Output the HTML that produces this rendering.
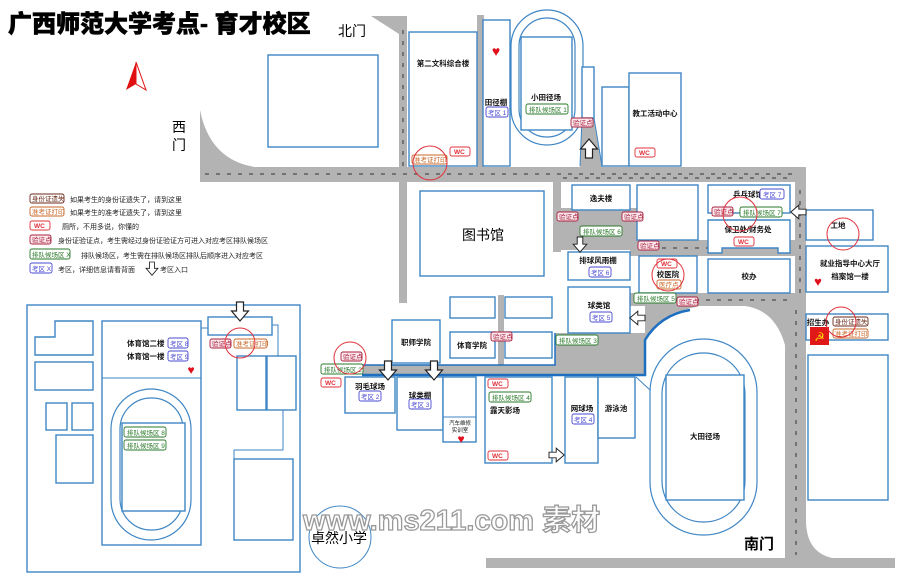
<!DOCTYPE html>
<html><head><meta charset="utf-8"><style>
html,body{margin:0;padding:0;background:#fff;}
svg{display:block;}
text{font-family:"Liberation Sans","Noto Sans CJK SC",sans-serif;}
.b{fill:#fff;stroke:#3f86c4;stroke-width:1.4;}
.r{fill:#b3b3b3;stroke:none;}
.lb{font-size:7.5px;font-weight:bold;fill:#111;}
.dash{stroke:#333;stroke-width:1;stroke-dasharray:4 7;fill:none;}
.c{fill:none;stroke:#e0303a;stroke-width:1;}
.ar{fill:#fff;stroke:#222;stroke-width:1.2;}
.bd text{font-size:6.5px;}
</style></head><body>
<svg width="900" height="575" viewBox="0 0 900 575" xmlns="http://www.w3.org/2000/svg">
<!-- roads -->
<path class="r" d="M200,110 Q210,160 255,167 L805,167 L805,182 L200,182 Z"/>
<path class="r" d="M371,16 L407,16 L407,303 L399,303 L399,34 Z"/>
<rect class="r" x="477" y="15" width="7" height="152"/>
<path class="r" d="M582,118 L594,118 L602,167 L580,167 Z"/>
<rect class="r" x="553" y="180" width="8" height="72"/>
<rect class="r" x="553" y="208" width="90" height="42"/>
<rect class="r" x="630" y="240" width="170" height="16"/>
<rect class="r" x="630" y="293" width="170" height="13"/>
<rect class="r" x="795" y="167" width="11" height="150"/>
<path class="r" d="M795,300 L806,300 L806,520 Q806,552 832,558 L895,558 L895,568 L486,568 L486,558 L785,558 L785,345 Q775,310 745,306 L700,306 L700,300 Z"/>
<rect class="r" x="498" y="295" width="6" height="70"/>
<path class="r" d="M362,365 L555,365 L555,333 L645,333 L645,306 L700,306 Q665,312 645,340 L645,375 L362,375 Z"/>
<path d="M362,375 L645,375 L645,340 Q660,315 690,310" fill="none" stroke="#1f6fc0" stroke-width="2.5"/>
<path d="M362,365 L555,365 L555,333" fill="none" stroke="#1f6fc0" stroke-width="1.5"/>
<!-- dashed arrows -->
<line class="dash" x1="205" y1="174" x2="795" y2="174"/>
<line class="dash" x1="403" y1="30" x2="403" y2="170"/>
<line class="dash" x1="563" y1="178" x2="790" y2="178"/>
<line class="dash" x1="800" y1="190" x2="800" y2="300"/>
<line class="dash" x1="640" y1="248" x2="790" y2="248"/>
<line class="dash" x1="640" y1="300" x2="790" y2="300"/>
<line class="dash" x1="796" y1="310" x2="796" y2="555"/>
<!-- title -->
<text x="8" y="32" font-size="24" font-weight="900" fill="#000" stroke="#000" stroke-width="0.6">广西师范大学考点- 育才校区</text>
<text x="338" y="36" font-size="14" fill="#000">北门</text>
<text x="172" y="132" font-size="14" fill="#000">西</text>
<text x="172" y="150" font-size="14" fill="#000">门</text>
<text x="744" y="549" font-size="15" font-weight="bold" fill="#000">南门</text>
<!-- north arrow -->
<path d="M136,62 L126,90 L136,84 Z" fill="#e01010"/>
<path d="M136,62 L146,90 L136,84 Z" fill="#fff" stroke="#e01010" stroke-width="1"/>
<!-- top buildings -->
<rect class="b" x="268" y="55" width="110" height="92"/>
<rect class="b" x="409" y="32" width="68" height="134"/>
<text class="lb" x="443" y="66" text-anchor="middle">第二文科综合楼</text>
<rect class="b" x="483" y="20" width="27" height="146"/>
<text x="496" y="56" font-size="14" fill="#e0101c" text-anchor="middle">♥</text>
<text class="lb" x="496" y="105" text-anchor="middle">田径棚</text>
<rect x="511" y="10" width="72" height="135" rx="36" fill="none" stroke="#3f86c4" stroke-width="1.2"/>
<rect x="519" y="18" width="56" height="119" rx="28" fill="none" stroke="#3f86c4" stroke-width="1.2"/>
<rect class="b" x="521" y="37" width="51" height="93"/>
<text class="lb" x="546" y="100" text-anchor="middle">小田径场</text>
<rect class="b" x="582" y="67" width="12" height="51"/>
<line x1="582" y1="118" x2="580" y2="166" stroke="#3f86c4"/>
<line x1="594" y1="118" x2="602" y2="166" stroke="#3f86c4"/>
<rect class="b" x="602" y="87" width="27" height="79"/>
<rect class="b" x="629" y="73" width="52" height="93"/>
<text class="lb" x="655" y="116" text-anchor="middle">教工活动中心</text>
<!-- middle -->
<rect class="b" x="420" y="191" width="124" height="85"/>
<text x="462" y="240" font-size="14" fill="#000">图书馆</text>
<rect class="b" x="572" y="185" width="58" height="25"/>
<text class="lb" x="601" y="201" text-anchor="middle">逸夫楼</text>
<rect class="b" x="637" y="185" width="61" height="55"/>
<rect class="b" x="708" y="185" width="82" height="28"/>
<text class="lb" x="748" y="197" text-anchor="middle">乒乓球馆</text>
<path class="b" d="M708,220 H790 V253 H778 V248 H722 V253 H708 Z"/>
<text class="lb" x="748" y="232" text-anchor="middle">保卫处/财务处</text>
<rect class="b" x="806" y="210" width="67" height="30"/>
<text class="lb" x="838" y="228" text-anchor="middle">工地</text>
<rect class="b" x="806" y="246" width="82" height="46"/>
<text class="lb" x="850" y="266" text-anchor="middle">就业指导中心大厅</text>
<text class="lb" x="850" y="279" text-anchor="middle">档案馆一楼</text>
<text x="818" y="286" font-size="13" fill="#e0101c" text-anchor="middle">♥</text>
<rect class="b" x="568" y="252" width="62" height="28"/>
<text class="lb" x="598" y="263" text-anchor="middle">排球风雨棚</text>
<rect class="b" x="639" y="256" width="58" height="37"/>
<text class="lb" x="668" y="277" text-anchor="middle">校医院</text>
<rect class="b" x="708" y="259" width="82" height="34"/>
<text class="lb" x="749" y="279" text-anchor="middle">校办</text>
<rect class="b" x="568" y="287" width="62" height="46"/>
<text class="lb" x="599" y="308" text-anchor="middle">球类馆</text>
<rect class="b" x="806" y="314" width="82" height="26"/>
<text class="lb" x="818" y="325" text-anchor="middle">招生办</text>
<rect x="810" y="327" width="19" height="18" fill="#e01818"/>
<text x="819.5" y="341" font-size="12" fill="#ffd800" text-anchor="middle">☭</text>
<rect class="b" x="808" y="355" width="80" height="145"/>
<rect class="b" x="392" y="320" width="48" height="43"/>
<text class="lb" x="416" y="345" text-anchor="middle">职师学院</text>
<rect class="b" x="450" y="297" width="45" height="21"/>
<rect class="b" x="505" y="297" width="47" height="21"/>
<rect class="b" x="450" y="332" width="45" height="26"/>
<text class="lb" x="472" y="348" text-anchor="middle">体育学院</text>
<rect class="b" x="505" y="332" width="47" height="26"/>
<rect class="b" x="345" y="377" width="50" height="36"/>
<text class="lb" x="370" y="389" text-anchor="middle">羽毛球场</text>
<rect class="b" x="397" y="377" width="46" height="53"/>
<text class="lb" x="420" y="398" text-anchor="middle">球类棚</text>
<rect class="b" x="443" y="377" width="33" height="65"/>
<line x1="443" y1="417" x2="476" y2="417" stroke="#3f86c4"/>
<text x="460" y="425" font-size="5.5" text-anchor="middle" fill="#111">汽车维修</text>
<text x="460" y="432" font-size="5.5" text-anchor="middle" fill="#111">实训室</text>
<text x="461" y="443" font-size="12" fill="#e0101c" text-anchor="middle">♥</text>
<rect class="b" x="485" y="377" width="67" height="86"/>
<text class="lb" x="490" y="413">露天影场</text>
<rect class="b" x="565" y="377" width="33" height="86"/>
<text class="lb" x="582" y="411" text-anchor="middle">网球场</text>
<rect class="b" x="598" y="377" width="37" height="61"/>
<text class="lb" x="616" y="411" text-anchor="middle">游泳池</text>
<line x1="636" y1="377" x2="650" y2="390" stroke="#3f86c4"/>
<rect x="650" y="339" width="107" height="196" rx="53" fill="#fff" stroke="#3f86c4" stroke-width="1.2"/>
<rect x="662" y="353" width="83" height="169" rx="41" fill="none" stroke="#3f86c4" stroke-width="1.2"/>
<rect class="b" x="666" y="375" width="78" height="125"/>
<text class="lb" x="705" y="439" text-anchor="middle">大田径场</text>
<!-- left campus -->
<rect class="b" x="27" y="305" width="273" height="267"/>
<path class="b" d="M55,321 H93 V355 H35 V337 H55 Z"/>
<rect class="b" x="35" y="362" width="58" height="28"/>
<rect class="b" x="46" y="403" width="21" height="27"/>
<rect class="b" x="72" y="403" width="21" height="27"/>
<rect class="b" x="56" y="435" width="37" height="48"/>
<rect class="b" x="102" y="321" width="99" height="224"/>
<line x1="102" y1="378" x2="201" y2="378" stroke="#3f86c4"/>
<text class="lb" x="127" y="346">体育馆二楼</text>
<text class="lb" x="127" y="359">体育馆一楼</text>
<text x="191" y="374" font-size="12" fill="#e0101c" text-anchor="middle">♥</text>
<rect x="111" y="389" width="80" height="151" rx="40" fill="none" stroke="#3f86c4" stroke-width="1.2"/>
<rect x="120" y="398" width="63" height="132" rx="31" fill="none" stroke="#3f86c4" stroke-width="1.2"/>
<rect class="b" x="122" y="423" width="63" height="88"/>
<polyline points="201,328 208,328" stroke="#3f86c4" fill="none"/>
<rect class="b" x="208" y="317" width="64" height="18"/>
<polyline points="272,325 278,325 278,356" stroke="#3f86c4" fill="none"/>
<rect class="b" x="237" y="356" width="29" height="54"/>
<rect class="b" x="267" y="356" width="29" height="54"/>
<polyline points="283,410 283,450 234,450 234,459" stroke="#3f86c4" fill="none"/>
<rect class="b" x="234" y="459" width="59" height="81"/>
<!-- badges -->
<g class="bd">
<g fill="#fbe9ee" stroke="#a8203c" stroke-width="0.9">
<rect x="210" y="339" width="21" height="9" rx="2"/><rect x="341" y="352" width="21" height="9" rx="2"/>
<rect x="571" y="118" width="22" height="9" rx="2"/><rect x="557" y="212" width="21" height="9" rx="2"/>
<rect x="622" y="212" width="21" height="9" rx="2"/><rect x="638" y="241" width="21" height="9" rx="2"/>
<rect x="677" y="297" width="21" height="9" rx="2"/><rect x="712" y="207" width="21" height="9" rx="2"/>
<rect x="491" y="332" width="21" height="9" rx="2"/><rect x="30" y="235" width="21" height="9" rx="2"/>
</g>
<g fill="#a8203c" font-size="6.5">
<text x="212" y="346">验证点</text><text x="343" y="359">验证点</text><text x="573" y="125">验证点</text>
<text x="559" y="219">验证点</text><text x="624" y="219">验证点</text><text x="640" y="248">验证点</text>
<text x="679" y="304">验证点</text><text x="714" y="214">验证点</text><text x="493" y="339">验证点</text>
<text x="32" y="242">验证点</text>
</g>
<g fill="#fff" stroke="#2a7a2a" stroke-width="0.9">
<rect x="526" y="104" width="42" height="10" rx="2"/><rect x="580" y="226" width="42" height="10" rx="2"/>
<rect x="740" y="207" width="42" height="10" rx="2"/><rect x="634" y="293" width="42" height="10" rx="2"/>
<rect x="556" y="335" width="42" height="10" rx="2"/><rect x="321" y="364" width="42" height="10" rx="2"/>
<rect x="489" y="392" width="42" height="10" rx="2"/><rect x="124" y="427" width="42" height="10" rx="2"/>
<rect x="124" y="440" width="42" height="10" rx="2"/><rect x="30" y="249" width="40" height="10" rx="2"/>
</g>
<g fill="#2a7a2a" font-size="6.5">
<text x="529" y="112">排队候场区 1</text><text x="583" y="234">排队候场区 6</text><text x="743" y="215">排队候场区 7</text>
<text x="637" y="301">排队候场区 5</text><text x="559" y="343">排队候场区 3</text><text x="324" y="372">排队候场区 2</text>
<text x="492" y="400">排队候场区 4</text><text x="127" y="435">排队候场区 8</text><text x="127" y="448">排队候场区 9</text>
<text x="32" y="257">排队候场区 X</text>
</g>
<g fill="#fff" stroke="#4a4ad0" stroke-width="0.9">
<rect x="486" y="107" width="22" height="10" rx="2"/><rect x="760" y="189" width="24" height="10" rx="2"/>
<rect x="589" y="267" width="22" height="10" rx="2"/><rect x="590" y="312" width="22" height="10" rx="2"/>
<rect x="359" y="391" width="22" height="10" rx="2"/><rect x="409" y="399" width="22" height="10" rx="2"/>
<rect x="572" y="414" width="22" height="10" rx="2"/><rect x="168" y="338" width="20" height="10" rx="2"/>
<rect x="168" y="351" width="20" height="10" rx="2"/><rect x="30" y="263" width="22" height="10" rx="2"/>
</g>
<g fill="#4a4ad0" font-size="6.5">
<text x="488" y="115">考区 1</text><text x="763" y="197">考区 7</text><text x="591" y="275">考区 6</text>
<text x="592" y="320">考区 5</text><text x="361" y="399">考区 2</text><text x="411" y="407">考区 3</text>
<text x="574" y="422">考区 4</text><text x="170" y="346">考区 8</text><text x="170" y="359">考区 9</text>
<text x="32" y="271">考区 X</text>
</g>
<g fill="#fff" stroke="#e0303a" stroke-width="0.9">
<rect x="450" y="147" width="20" height="9" rx="2"/><rect x="635" y="148" width="20" height="9" rx="2"/>
<rect x="734" y="237" width="20" height="9" rx="2"/><rect x="657" y="259" width="20" height="9" rx="2"/>
<rect x="321" y="378" width="20" height="9" rx="2"/><rect x="488" y="379" width="20" height="9" rx="2"/>
<rect x="488" y="451" width="20" height="9" rx="2"/><rect x="30" y="221" width="20" height="9" rx="2"/>
</g>
<g fill="#e0303a" font-size="6.5" font-weight="bold">
<text x="454" y="154">WC</text><text x="639" y="155">WC</text><text x="738" y="244">WC</text><text x="661" y="266">WC</text>
<text x="325" y="385">WC</text><text x="492" y="386">WC</text><text x="492" y="458">WC</text><text x="34" y="228">WC</text>
</g>
<g fill="#fff" stroke="#c8682a" stroke-width="0.9">
<rect x="412" y="155" width="35" height="9" rx="2"/><rect x="234" y="339" width="33" height="9" rx="2"/>
<rect x="833" y="329" width="35" height="9" rx="2"/><rect x="30" y="207" width="34" height="9" rx="2"/>
<rect x="657" y="280" width="24" height="9" rx="2"/>
</g>
<g fill="#c8682a" font-size="6.5">
<text x="414" y="162">准考证打印</text><text x="236" y="346">准考证打印</text><text x="835" y="336">准考证打印</text>
<text x="32" y="214">准考证打印</text><text x="659" y="287">医疗点</text>
</g>
<g fill="#fff" stroke="#6a2a1a" stroke-width="0.9">
<rect x="833" y="317" width="35" height="9" rx="2"/><rect x="30" y="194" width="34" height="9" rx="2"/>
</g>
<g fill="#6a2a1a" font-size="6.5">
<text x="835" y="324">身份证遗失</text><text x="32" y="201">身份证遗失</text>
</g>
</g>
<!-- circles -->
<circle class="c" cx="430" cy="163" r="17"/>
<circle class="c" cx="350" cy="358" r="16"/>
<circle class="c" cx="240" cy="343" r="15"/>
<circle class="c" cx="668" cy="275" r="16"/>
<circle class="c" cx="740" cy="214" r="17"/>
<circle class="c" cx="843" cy="234" r="16"/>
<circle class="c" cx="841" cy="322" r="15"/>
<circle cx="340" cy="537" r="31" fill="none" stroke="#3f86c4" stroke-width="1"/>
<text x="311" y="543" font-size="14" fill="#000">卓然小学</text>
<!-- legend text -->
<g font-size="7" fill="#222">
<text x="70" y="202">如果考生的身份证遗失了，请到这里</text>
<text x="70" y="215">如果考生的准考证遗失了，请到这里</text>
<text x="62" y="229">厕所，不用多说，你懂的</text>
<text x="58" y="243">身份证验证点，考生需经过身份证验证方可进入对应考区排队候场区</text>
<text x="81" y="258">排队候场区，考生需在排队候场区排队后顺序进入对应考区</text>
<text x="58" y="272">考区，详细信息请看背面</text>
<text x="160" y="272">考区入口</text>
</g>
<!-- white arrows -->
<g class="ar">
<path d="M-3.5,0 h7 v9 h5 l-8.5,10 l-8.5,-10 h5 z" transform="translate(152,262) scale(0.7)"/>
<path d="M-3.5,0 h7 v9 h5 l-8.5,10 l-8.5,-10 h5 z" transform="translate(240,302)"/>
<path d="M-3.5,0 h7 v9 h5 l-8.5,10 l-8.5,-10 h5 z" transform="translate(388,361)"/>
<path d="M-3.5,0 h7 v9 h5 l-8.5,10 l-8.5,-10 h5 z" transform="translate(434,361)"/>
<path d="M-3.5,0 h7 v9 h5 l-8.5,10 l-8.5,-10 h5 z" transform="translate(580,237) scale(0.8)"/>
<path d="M-3.5,0 h7 v9 h5 l-8.5,10 l-8.5,-10 h5 z" transform="translate(589,158) rotate(180)"/>
<path d="M-3.5,0 h7 v9 h5 l-8.5,10 l-8.5,-10 h5 z" transform="translate(806,212) rotate(90) scale(0.8)"/>
<path d="M-3.5,0 h7 v9 h5 l-8.5,10 l-8.5,-10 h5 z" transform="translate(645,318) rotate(90) scale(0.8)"/>
<path d="M-3.5,0 h7 v9 h5 l-8.5,10 l-8.5,-10 h5 z" transform="translate(549,455) rotate(-90) scale(0.8)"/>
</g>
<!-- watermark -->
<text x="303" y="530" font-size="29" font-weight="bold" fill="#fff" stroke="#999" stroke-width="1.3">www.ms211.com 素材</text>
</svg>
</body></html>
